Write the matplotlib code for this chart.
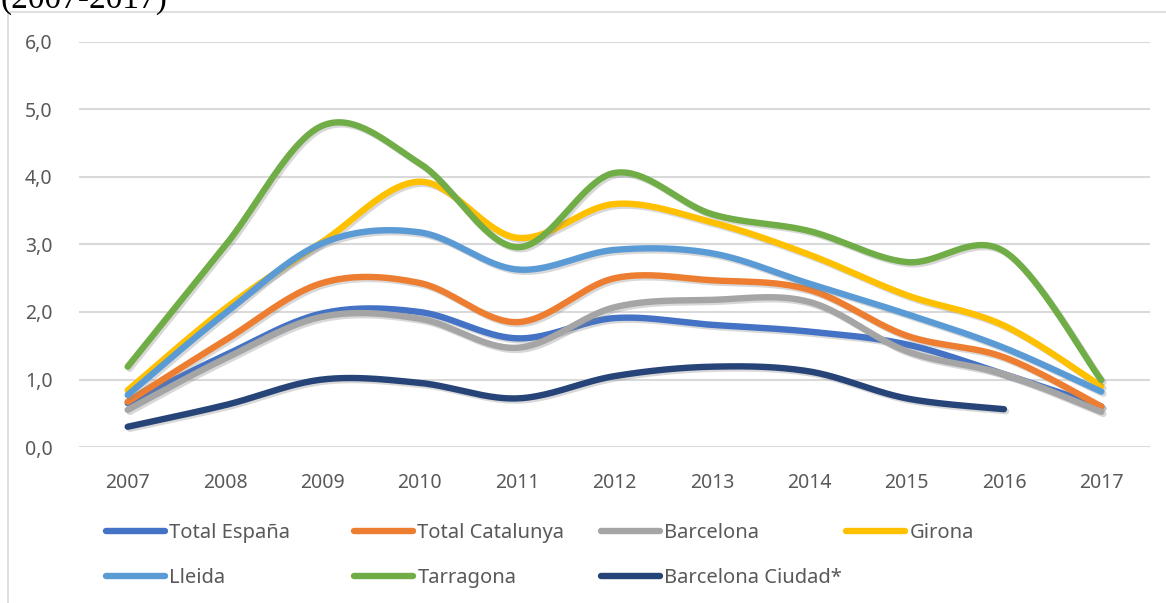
import numpy as np
import matplotlib.pyplot as plt
import matplotlib.patheffects as pe
from matplotlib.patches import Rectangle

# Data
years = ['2007', '2008', '2009', '2010', '2011', '2012', '2013', '2014', '2015', '2016', '2017']

total_espana = [0.65, 1.36, 1.98, 2.0, 1.61, 1.91, 1.81, 1.71, 1.52, 1.08, 0.6]
total_catalunya = [0.67, 1.58, 2.43, 2.43, 1.85, 2.5, 2.47, 2.33, 1.65, 1.33, 0.6]
barcelona = [0.55, 1.31, 1.93, 1.9, 1.47, 2.07, 2.18, 2.15, 1.42, 1.08, 0.52]
girona = [0.84, 2.05, 3.04, 3.93, 3.1, 3.6, 3.33, 2.85, 2.25, 1.8, 0.9]
lleida = [0.77, 1.98, 3.02, 3.18, 2.63, 2.92, 2.87, 2.42, 1.97, 1.47, 0.82]
tarragona = [1.19, 2.98, 4.76, 4.2, 2.96, 4.06, 3.45, 3.2, 2.74, 2.9, 0.99]
bcn_ciudad = [0.3, 0.62, 1.0, 0.95, 0.72, 1.05, 1.19, 1.12, 0.72, 0.56]

series = [
    ('Total España', total_espana, '#4472C4'),
    ('Total Catalunya', total_catalunya, '#ED7D31'),
    ('Barcelona', barcelona, '#A5A5A5'),
    ('Girona', girona, '#FFC000'),
    ('Lleida', lleida, '#5B9BD5'),
    ('Tarragona', tarragona, '#70AD47'),
    ('Barcelona Ciudad*', bcn_ciudad, '#264478'),
]

plt.rcParams['font.family'] = ['Noto Sans', 'DejaVu Sans']


def smooth(x, y, n=40):
    # Excel-style smoothed line: cubic bezier, tangents (P[i+1]-P[i-1])/6
    p = np.column_stack([x, y]).astype(float)
    ext = np.vstack([p[0], p, p[-1]])
    t = np.linspace(0, 1, n)[:, None]
    out = []
    for i in range(len(p) - 1):
        p0, p1, p2, p3 = ext[i], ext[i + 1], ext[i + 2], ext[i + 3]
        c1 = p1 + (p2 - p0) / 6
        c2 = p2 - (p3 - p1) / 6
        seg = ((1 - t)**3 * p1 + 3 * (1 - t)**2 * t * c1
               + 3 * (1 - t) * t**2 * c2 + t**3 * p2)
        out.append(seg if i == 0 else seg[1:])
    out = np.vstack(out)
    return out[:, 0], out[:, 1]


W, H = 1166, 603
fig = plt.figure(figsize=(W / 100, H / 100), dpi=100)
ax = fig.add_axes([79 / W, 1 - 447 / H, (1150 - 79) / W, (447 - 42) / H])

# outer chart border
fig.patches.append(Rectangle((8 / W, -0.05), 1.2, 1 - 12 / H + 0.05,
                             transform=fig.transFigure, fill=False,
                             edgecolor='#D9D9D9', lw=1.2))

fig.text(0.0, 1 - 8 / H, '(2007-2017)', family='Liberation Serif',
         fontsize=24, va='baseline', ha='left', color='black')

shadow = [pe.SimpleLineShadow(offset=(1.5, -1.5), shadow_color='gray', alpha=0.3),
          pe.Normal()]

handles = []
for name, vals, color in series:
    xs, ys = smooth(np.arange(len(vals)), vals)
    line, = ax.plot(xs, ys, color=color, lw=4.6, solid_capstyle='round',
                    label=name, path_effects=shadow)
    handles.append(line)

ax.set_xlim(-0.5, len(years) - 0.5)
ax.set_ylim(0, 6)
ax.set_xticks(range(len(years)))
ax.set_xticklabels(years)
ax.set_yticks(np.arange(0, 7, 1))
ax.set_yticklabels([f'{v:.1f}'.replace('.', ',') for v in range(7)])
ax.tick_params(length=0, labelsize=14, labelcolor='#595959')
ax.tick_params(axis='y', pad=19)
ax.tick_params(axis='x', pad=19)
ax.grid(axis='y', color='#D9D9D9', lw=1.5)
ax.set_axisbelow(True)
for s in ax.spines.values():
    s.set_visible(False)

# legend: four equal columns, two rows
col_x = [106, 354, 601, 846]
cols = [[0, 4], [1, 5], [2, 6], [3]]
for cx, idx in zip(col_x, cols):
    leg = fig.legend([handles[i] for i in idx], [series[i][0] for i in idx],
                     loc='upper left', bbox_to_anchor=(cx / W, 1 - 523 / H),
                     frameon=False, fontsize=14.5, handlelength=2.95,
                     handletextpad=0.2, borderpad=0, borderaxespad=0,
                     labelspacing=1.25, labelcolor='#595959')
    for lh in leg.get_lines():
        lh.set_path_effects([])
        lh.set_linewidth(4.6)
        lh.set_solid_capstyle('round')

fig.savefig('out.png', dpi=100)
